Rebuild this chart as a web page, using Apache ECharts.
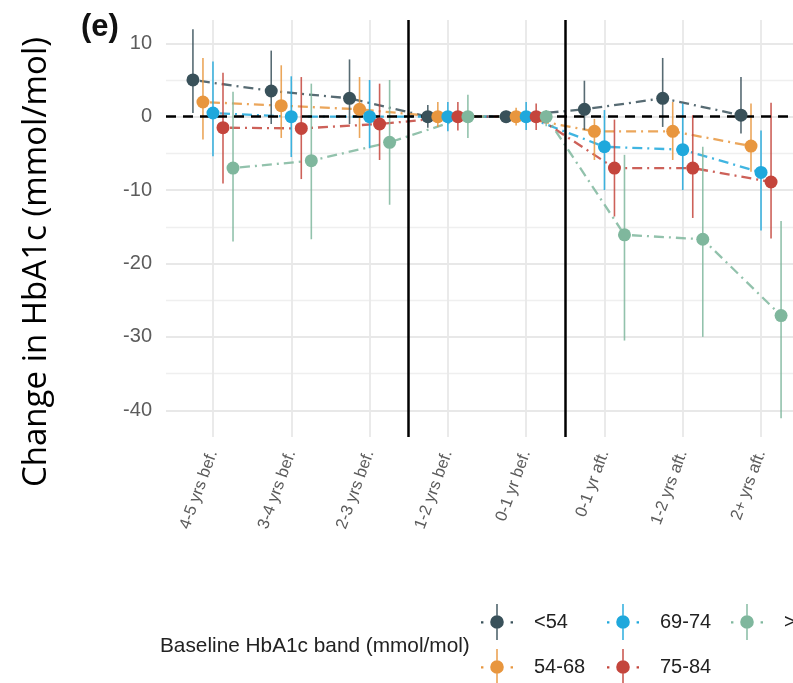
<!DOCTYPE html>
<html><head><meta charset="utf-8">
<script src="https://cdn.jsdelivr.net/npm/echarts@6/dist/echarts.min.js"></script>
<style>html,body{margin:0;padding:0;background:#fff}#c{width:793px;height:683px}</style>
</head><body><div id="c"></div>
<script>
// ---- data ----
const categories = ['4-5 yrs bef.','3-4 yrs bef.','2-3 yrs bef.','1-2 yrs bef.','0-1 yr bef.','0-1 yr aft.','1-2 yrs aft.','2+ yrs aft.'];
const bands = ['<54','54-68','69-74','75-84','>84'];
const periodBreaks = ['1-2 yrs bef.','0-1 yr aft.'];

const est_lt54 = [5.0, 3.5, 2.5, 0.0, 0.0, 1.0, 2.5, 0.2];
const lo_lt54  = [0.5, -1.0, -1.0, -1.5, -0.8, -1.8, -1.4, -2.3];
const hi_lt54  = [11.9, 9.0, 7.8, 1.6, 0.8, 4.9, 8.0, 5.4];

const est_5468 = [2.0, 1.5, 1.0, 0.0, 0.0, -2.0, -2.0, -4.0];
const lo_5468  = [-3.1, -2.9, -2.9, -1.4, -1.2, -5.9, -5.9, -7.5];
const hi_5468  = [8.0, 7.0, 5.4, 2.0, 1.2, -0.3, 2.0, 1.8];

const est_6974 = [0.5, 0.0, 0.0, 0.0, 0.0, -4.1, -4.5, -7.6];
const lo_6974  = [-5.4, -5.5, -4.3, -2.0, -1.8, -10.0, -10.0, -15.5];
const hi_6974  = [7.5, 5.5, 5.0, 2.0, 2.0, 0.9, 1.8, -1.9];

const est_7584 = [-1.5, -1.6, -1.0, 0.0, 0.0, -7.0, -7.0, -8.9];
const lo_7584  = [-9.1, -8.5, -5.9, -1.9, -1.8, -13.6, -13.8, -16.6];
const hi_7584  = [6.0, 5.4, 4.5, 2.0, 1.8, -0.4, 0.2, 1.9];

const est_gt84 = [-7.0, -6.0, -3.5, 0.0, 0.0, -16.1, -16.7, -27.1];
const lo_gt84  = [-17.0, -16.7, -12.0, -2.9, -1.3, -30.5, -30.0, -41.1];
const hi_gt84  = [3.4, 4.5, 5.0, 3.0, 0.9, -5.2, -4.1, -14.2];

const yTicks = [-40, -30, -20, -10, 0, 10];
const yMinorTicks = [-35, -25, -15, -5, 5];

// ---- styling ----
const colors = ['#39515a', '#e8963e', '#1fa8dc', '#c4453c', '#7fb79d'];
const groups = [
  [est_lt54, lo_lt54, hi_lt54],
  [est_5468, lo_5468, hi_5468],
  [est_6974, lo_6974, hi_6974],
  [est_7584, lo_7584, hi_7584],
  [est_gt84, lo_gt84, hi_gt84]
];
const dodge = 0.128;
const legendPos = [[481,604],[481,649],[607,604],[607,649],[731,604]];
const keyPath = 'path://M0,17.2L2.4,17.2L2.4,19.4L0,19.4Z M29.6,17.2L32,17.2L32,19.4L29.6,19.4Z M15.3,0L16.7,0L16.7,11.3L15.3,11.3Z M15.3,24.7L16.7,24.7L16.7,36L15.3,36Z M9.2,18A6.8,6.8 0 1,1 22.8,18A6.8,6.8 0 1,1 9.2,18Z';

const series = [];
// reference lines
series.push({
  type: 'line', name: '__ref', data: [], silent: true, z: 3,
  markLine: {
    silent: true, symbol: ['none','none'], label: {show: false}, animation: false,
    data: [
      {yAxis: 0, lineStyle: {color: '#000', width: 2.5, type: [10, 7]}},
      ...periodBreaks.map(c => ({xAxis: categories.indexOf(c) - 0.5, lineStyle: {color: '#000', width: 2.5, type: 'solid'}}))
    ]
  }
});
groups.forEach((g, gi) => {
  const off = (gi - 2) * dodge;
  const pts = g[0].map((v, i) => [i + off, v]);
  const bars = g[0].map((v, i) => [i + off, g[1][i], g[2][i]]);
  series.push({
    type: 'scatter', name: bands[gi], data: pts, symbol: 'circle', symbolSize: 13,
    itemStyle: {color: colors[gi], opacity: 1}, z: 5 + gi * 0.01, animation: false
  });
  series.push({
    type: 'line', name: bands[gi], data: pts, showSymbol: false, symbol: 'none',
    lineStyle: {color: colors[gi], width: 2.3, type: [2, 5, 10, 5], opacity: 0.85},
    itemStyle: {color: colors[gi]}, z: 2, animation: false
  });
  series.push({
    type: 'custom', name: bands[gi], data: bars, z: 4, animation: false,
    encode: {x: 0, y: [1, 2]},
    renderItem: (params, api) => {
      const x = api.value(0);
      const p1 = api.coord([x, api.value(1)]);
      const p2 = api.coord([x, api.value(2)]);
      return {type: 'line', shape: {x1: p1[0], y1: p1[1], x2: p2[0], y2: p2[1]},
        style: {stroke: colors[gi], lineWidth: 1.6, opacity: 0.85}};
    }
  });
});

const chart = echarts.init(document.getElementById('c'), null, {renderer: 'canvas'});
chart.setOption({
  backgroundColor: '#fff',
  animation: false,
  textStyle: {fontFamily: 'Liberation Sans'},
  grid: {left: 166, top: 20, width: 642, height: 417, containLabel: false, outerBoundsMode: 'none'},
  xAxis: [{
    type: 'value', min: -0.6, max: 7.6,
    axisLine: {show: false},
    axisTick: {show: false, customValues: categories.map((c, i) => i)},
    axisLabel: {customValues: categories.map((c, i) => i), formatter: v => categories[Math.round(v)] || '',
      rotate: 70, margin: 14, fontSize: 16.5, color: '#5c5c5c', fontFamily: 'Liberation Sans'},
    splitLine: {show: true, lineStyle: {color: '#e8e8e8', width: 1.8}}
  }],
  yAxis: [{
    type: 'value', min: -43.64, max: 13.17,
    axisLine: {show: false},
    axisTick: {show: false, customValues: yTicks},
    axisLabel: {customValues: yTicks, margin: 14, fontSize: 20, color: '#5c5c5c', fontFamily: 'Liberation Sans'},
    splitLine: {show: true, lineStyle: {color: '#e8e8e8', width: 1.8}}
  }, {
    type: 'value', min: -43.64, max: 13.17, position: 'left',
    axisLine: {show: false},
    axisTick: {show: false, customValues: yMinorTicks},
    axisLabel: {show: false, customValues: yMinorTicks},
    splitLine: {show: true, lineStyle: {color: '#efefef', width: 1.3}}
  }],
  legend: bands.map((b, i) => ({
    data: [b], left: legendPos[i][0], top: legendPos[i][1], padding: 0,
    orient: 'horizontal', itemWidth: 32, itemHeight: 36, icon: keyPath, selectedMode: false,
    textStyle: {fontSize: 20, color: '#222', fontFamily: 'Liberation Sans', padding: [0, 0, 0, 16]}
  })),
  graphic: [
    {type: 'text', left: 81, top: 12, style: {text: '(e)', font: 'bold 31px "Liberation Sans"', fill: '#111'}},
    {type: 'text', x: 37, y: 262, rotation: Math.PI / 2,
      style: {text: 'Change in HbA1c (mmol/mol)', font: '33px "Open Sans"', fill: '#000', align: 'center', verticalAlign: 'middle'}},
    {type: 'text', left: 160, top: 636, style: {text: 'Baseline HbA1c band (mmol/mol)', font: '20.8px "Liberation Sans"', fill: '#222'}}
  ],
  series: series
});
</script></body></html>
